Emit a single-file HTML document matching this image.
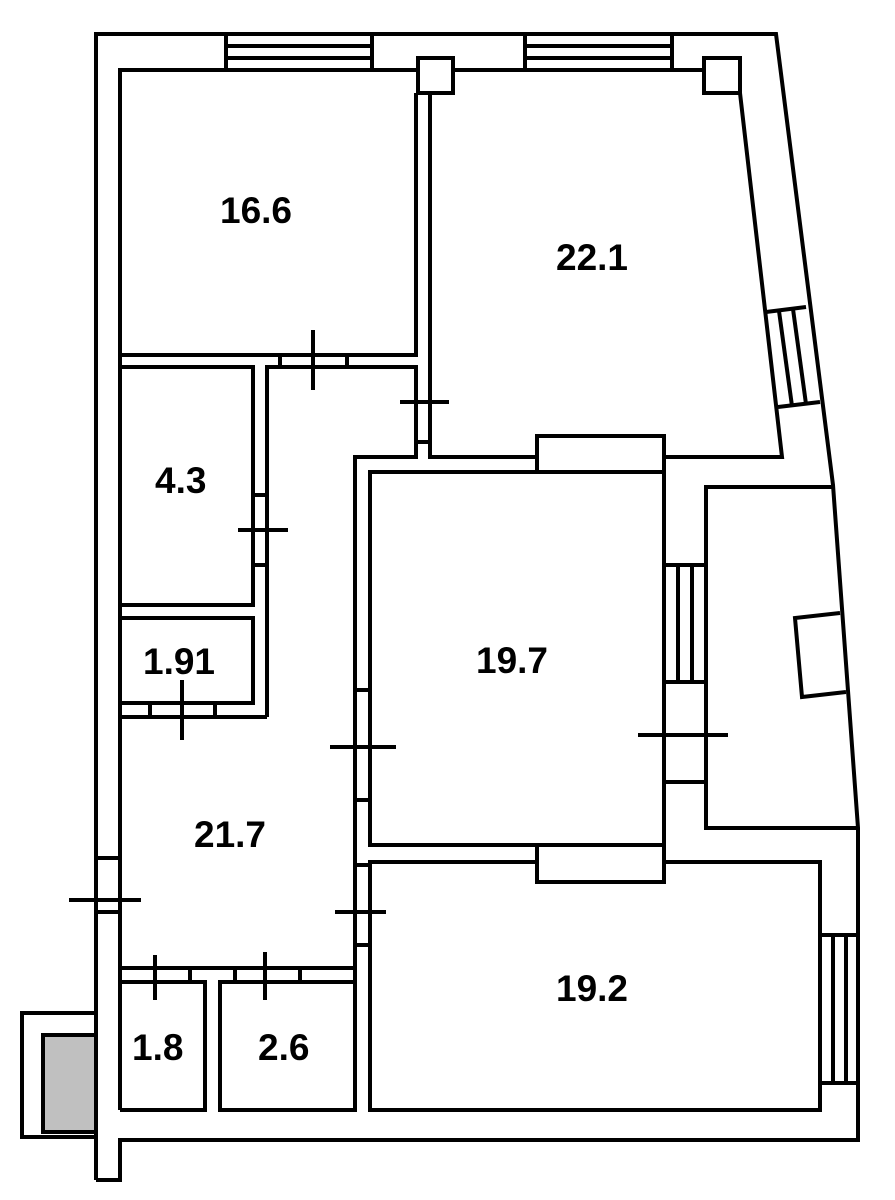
<!DOCTYPE html>
<html><head><meta charset="utf-8"><style>
body{margin:0;background:#fff}
svg{display:block}
text{font-family:"Liberation Sans",Arial,sans-serif;font-weight:bold;font-size:37px;fill:#000}
</style></head><body>
<svg width="895" height="1200" viewBox="0 0 895 1200" xmlns="http://www.w3.org/2000/svg">
<g fill="none" stroke="#000" stroke-width="4" stroke-linejoin="miter">
<polyline points="96,1180 96,34 776,34 833,485 858,828 858,1140 120,1140 120,1180 96,1180"/>
<polyline points="96,1013 22,1013 22,1137 96,1137"/>
<rect x="43" y="1035" width="53" height="97" fill="#c0c0c0"/>
<rect x="226" y="34" width="146" height="36"/>
<line x1="226" y1="46" x2="372" y2="46"/><line x1="226" y1="58" x2="372" y2="58"/>
<rect x="525" y="34" width="147" height="36"/>
<line x1="525" y1="46" x2="672" y2="46"/><line x1="525" y1="58" x2="672" y2="58"/>
<rect x="418" y="58" width="35" height="35"/>
<rect x="704" y="58" width="36" height="35"/>
<polyline points="418,70 120,70 120,355 416,355 416,93"/>
<polyline points="120,367 253,367 253,605 120,605"/>
<line x1="120" y1="355" x2="120" y2="1110"/>
<line x1="96" y1="858" x2="120" y2="858"/><line x1="96" y1="912" x2="120" y2="912"/>
<line x1="69" y1="900" x2="141" y2="900"/>
<line x1="280" y1="355" x2="280" y2="367"/><line x1="347" y1="355" x2="347" y2="367"/>
<line x1="313" y1="330" x2="313" y2="390"/>
<polyline points="453,70 704,70"/>
<polyline points="430,93 430,457 537,457"/>
<polyline points="740,93 782,457 664,457"/>
<rect x="537" y="436" width="127" height="36"/>
<line x1="766" y1="312" x2="806" y2="307"/><line x1="778" y1="407" x2="820" y2="402"/>
<line x1="779" y1="311" x2="792" y2="406"/><line x1="793" y1="309" x2="806" y2="404"/>
<polyline points="267,717 267,367 416,367 416,457 355,457 355,968"/>
<line x1="416" y1="442" x2="430" y2="442"/>
<line x1="400" y1="402" x2="449" y2="402"/>
<line x1="253" y1="495" x2="267" y2="495"/><line x1="253" y1="565" x2="267" y2="565"/>
<line x1="238" y1="530" x2="288" y2="530"/>
<polyline points="120,618 253,618 253,703 120,703"/>
<polyline points="120,717 267,717"/>
<line x1="150" y1="703" x2="150" y2="717"/><line x1="215" y1="703" x2="215" y2="717"/>
<line x1="182" y1="680" x2="182" y2="740"/>
<polyline points="537,472 370,472 370,845 537,845"/>
<line x1="664" y1="472" x2="664" y2="845"/>
<line x1="355" y1="690" x2="370" y2="690"/><line x1="355" y1="800" x2="370" y2="800"/>
<line x1="330" y1="747" x2="396" y2="747"/>
<line x1="355" y1="865" x2="370" y2="865"/><line x1="355" y1="945" x2="370" y2="945"/>
<line x1="335" y1="912" x2="386" y2="912"/>
<rect x="537" y="845" width="127" height="37"/>
<polyline points="832,487 706,487 706,828 858,828"/>
<line x1="664" y1="565" x2="706" y2="565"/><line x1="664" y1="682" x2="706" y2="682"/>
<line x1="678" y1="565" x2="678" y2="682"/><line x1="692" y1="565" x2="692" y2="682"/>
<line x1="664" y1="782" x2="706" y2="782"/>
<line x1="638" y1="735" x2="728" y2="735"/>
<polyline points="840,613 795,618 802,697 846,692"/>
<polyline points="537,862 370,862 370,1110 820,1110 820,862 664,862"/>
<line x1="820" y1="935" x2="858" y2="935"/><line x1="820" y1="1083" x2="858" y2="1083"/>
<line x1="833" y1="935" x2="833" y2="1083"/><line x1="846" y1="935" x2="846" y2="1083"/>
<line x1="120" y1="968" x2="355" y2="968"/>
<polyline points="120,982 205,982 205,1110 120,1110"/>
<polyline points="355,982 220,982 220,1110 355,1110 355,968"/>
<line x1="190" y1="968" x2="190" y2="982"/>
<line x1="235" y1="968" x2="235" y2="982"/><line x1="300" y1="968" x2="300" y2="982"/>
<line x1="155" y1="955" x2="155" y2="1000"/>
<line x1="265" y1="952" x2="265" y2="1000"/>
</g>
<text x="220" y="223">16.6</text>
<text x="556" y="270">22.1</text>
<text x="155" y="493">4.3</text>
<text x="143" y="674">1.91</text>
<text x="476" y="673">19.7</text>
<text x="194" y="847">21.7</text>
<text x="556" y="1001">19.2</text>
<text x="132" y="1060">1.8</text>
<text x="258" y="1060">2.6</text>
</svg>
</body></html>
